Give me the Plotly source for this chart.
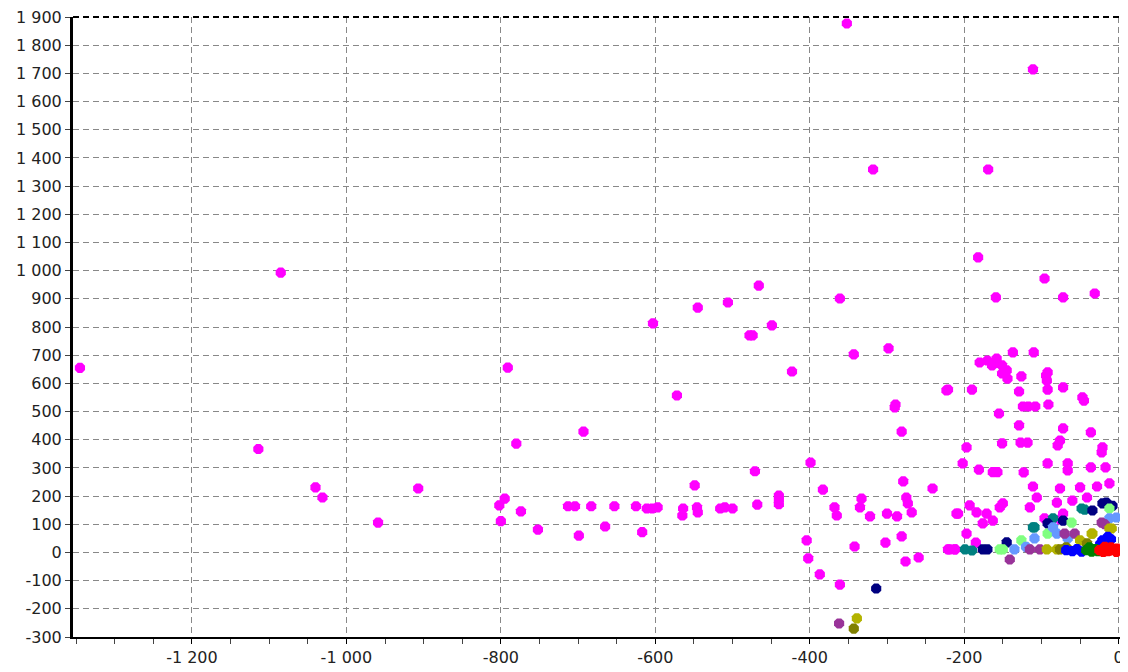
import plotly.graph_objects as go

# ---- data ----
magenta_x = [-1345, -1085, -1114, -1040, -1031, -959, -907,
             -791, -780, -802, -795, -800, -774, -752, -713, -704, -693, -699, -683, -665,
             -653, -625, -617, -611, -604, -597, -603, -572, -564, -565, -549, -546, -545,
             -545, -506, -516, -510, -500, -478,
             -466, -361, -449, -474, -343, -298, -423, -223, -289, -290, -281, -399, -471,
             -468, -440, -440, -440, -383, -368, -365, -333, -335, -322, -300, -287, -279,
             -275, -273, -268, -241, -210, -404, -402, -387, -361, -342, -302, -281, -276,
             -259, -221, -212, -352, -318, -111, -169,
             -182, -159, -96, -72, -31,
             -221, -197, -202, -181, -190, -180, -170, -158, -164, -151, -145, -151, -144,
             -137, -110, -126, -129, -94, -92, -93, -92, -72, -47, -45, -155, -124, -117,
             -108, -91, -129, -72, -76, -79, -36, -21, -22, -151, -127, -118, -163, -157,
             -123, -92, -66, -66, -36, -17,
             -111, -106, -76, -50, -28, -12, -80, -60, -41, -115, -193, -184, -171, -154,
             -150, -163, -176, -208, -197, -185, -96, -76, -219, -212, -72]
magenta_y = [655, 993, 367, 231, 195, 106, 227,
             656, 386, 167, 191, 111, 146, 81, 164, 164, 429, 60, 164, 92,
             164, 164, 72, 156, 156, 160, 813, 557, 156, 131, 238, 160, 142,
             869, 887, 156, 160, 156, 770,
             947, 901, 806, 770, 703, 724, 642, 575, 525, 515, 429, 319, 288,
             170, 202, 187, 171, 223, 160, 131, 191, 160, 128, 138, 128, 252,
             195, 174, 142, 227, 138, 43, -21, -78, -114, 21, 35, 57, -32,
             -18, 11, 11, 1877, 1359, 1714, 1359,
             1047, 905, 972, 905, 919,
             578, 373, 316, 294, 578, 674, 681, 688, 664, 664, 646, 635, 617,
             710, 710, 625, 571, 628, 639, 610, 578, 586, 550, 539, 493, 518, 518,
             518, 525, 451, 440, 397, 380, 426, 373, 355, 387, 390, 390, 285, 285,
             284, 316, 316, 291, 302, 302,
             234, 195, 227, 231, 234, 245, 177, 184, 195, 160, 167, 142, 138, 160,
             174, 113, 103, 138, 67, 35, 121, 117, 11, 11, 138]

teal_x = [-199, -190, -109, -85, -48, -44, -111]
teal_y = [11, 7, 89, 121, 156, 152, 89]

navy_x = [-176, -170, -145, -72, -34, -21, -16, -92, -314, -8]
navy_y = [11, 11, 36, 113, 149, 174, 177, 103, -128, 165]

lightgreen_x = [-154, -150, -126, -61, -92, -12]
lightgreen_y = [11, 11, 43, 106, 67, 156]

cornflower_x = [-135, -109, -80, -85, -66, -12, -3, -120]
cornflower_y = [11, 50, 67, 89, 50, 121, 124, 20]

purple_x = [-115, -102, -70, -57, -22, -141, -362, -18]
purple_y = [11, 11, 67, 67, 106, -25, -252, 100]

olive_x = [-93, -80, -50, -34, -9, -339, -12, -35]
olive_y = [11, 11, 43, 67, 85, -234, 85, 67]

darkolive_x = [-76, -68, -41, -343]
darkolive_y = [11, 18, 32, -270]

blue_x = [-68, -60, -54, -48, -21, -14, -10, -24]
blue_y = [8, 5, 12, 3, 43, 55, 47, 30]

green_x = [-42, -35, -30, -27, -38]
green_y = [8, 3, 12, 5, 18]

red_x = [-25, -20, -18, -14, -10, -8, -6, -3, -2, -16, -12, -4]
red_y = [8, 2, 20, 5, 18, 12, 10, 2, 14, 12, 6, 8]

series = [
    ("Série 1", magenta_x, magenta_y, "#ff00ff"),
    ("Série 2", teal_x, teal_y, "#008080"),
    ("Série 3", navy_x, navy_y, "#000080"),
    ("Série 4", lightgreen_x, lightgreen_y, "#80ff80"),
    ("Série 5", cornflower_x, cornflower_y, "#6699ff"),
    ("Série 6", purple_x, purple_y, "#993399"),
    ("Série 7", olive_x, olive_y, "#b3b300"),
    ("Série 8", darkolive_x, darkolive_y, "#808000"),
    ("Série 9", blue_x, blue_y, "#0000ff"),
    ("Série 10", green_x, green_y, "#008000"),
    ("Série 11", red_x, red_y, "#ff0000"),
]

x_ticks = [-1200, -1000, -800, -600, -400, -200, 0]
y_ticks = [-300, -200, -100, 0, 100, 200, 300, 400, 500, 600, 700, 800, 900,
           1000, 1100, 1200, 1300, 1400, 1500, 1600, 1700, 1800, 1900]


def fmt(v):
    s = f"{abs(v):,}".replace(",", " ")
    return ("-" if v < 0 else "") + s


fig = go.Figure()
for name, xs, ys, col in series:
    fig.add_trace(go.Scatter(
        x=xs, y=ys, mode="markers", name=name,
        marker=dict(symbol="octagon", size=11, color=col,
                    line=dict(width=0)),
    ))

fig.update_layout(
    width=1120, height=664,
    margin=dict(l=65, r=7, t=9, b=35),
    paper_bgcolor="white", plot_bgcolor="white",
    showlegend=False,
    font=dict(family="DejaVu Sans", size=16, color="#222222"),
)
fig.update_xaxes(
    range=[-1354, 3], automargin=False, ticklabeloverflow="allow",
    tickmode="array", tickvals=x_ticks, ticktext=[fmt(v) for v in x_ticks],
    showgrid=True, gridcolor="#888888", griddash="6px,4px", gridwidth=1,
    zeroline=False,
    showline=True, linecolor="black", linewidth=2,
    ticks="outside", ticklen=5, tickcolor="black",
    minor=dict(tickmode="linear", tick0=0, dtick=50, ticks="outside",
               ticklen=5, tickcolor="#444444", showgrid=False),
)
fig.update_yaxes(
    range=[-300, 1900], automargin=False, ticklabeloverflow="allow",
    tickmode="array", tickvals=y_ticks, ticktext=[fmt(v) for v in y_ticks],
    showgrid=True, gridcolor="#888888", griddash="6px,4px", gridwidth=1,
    zeroline=False,
    showline=True, linecolor="black", linewidth=3,
    ticks="outside", ticklen=5, tickcolor="#444444",
)
fig.add_shape(type="line", xref="paper", yref="paper", x0=0, x1=1, y0=1, y1=1,
              line=dict(color="black", width=2, dash="6px,4px"))

fig.write_html("out.html")
